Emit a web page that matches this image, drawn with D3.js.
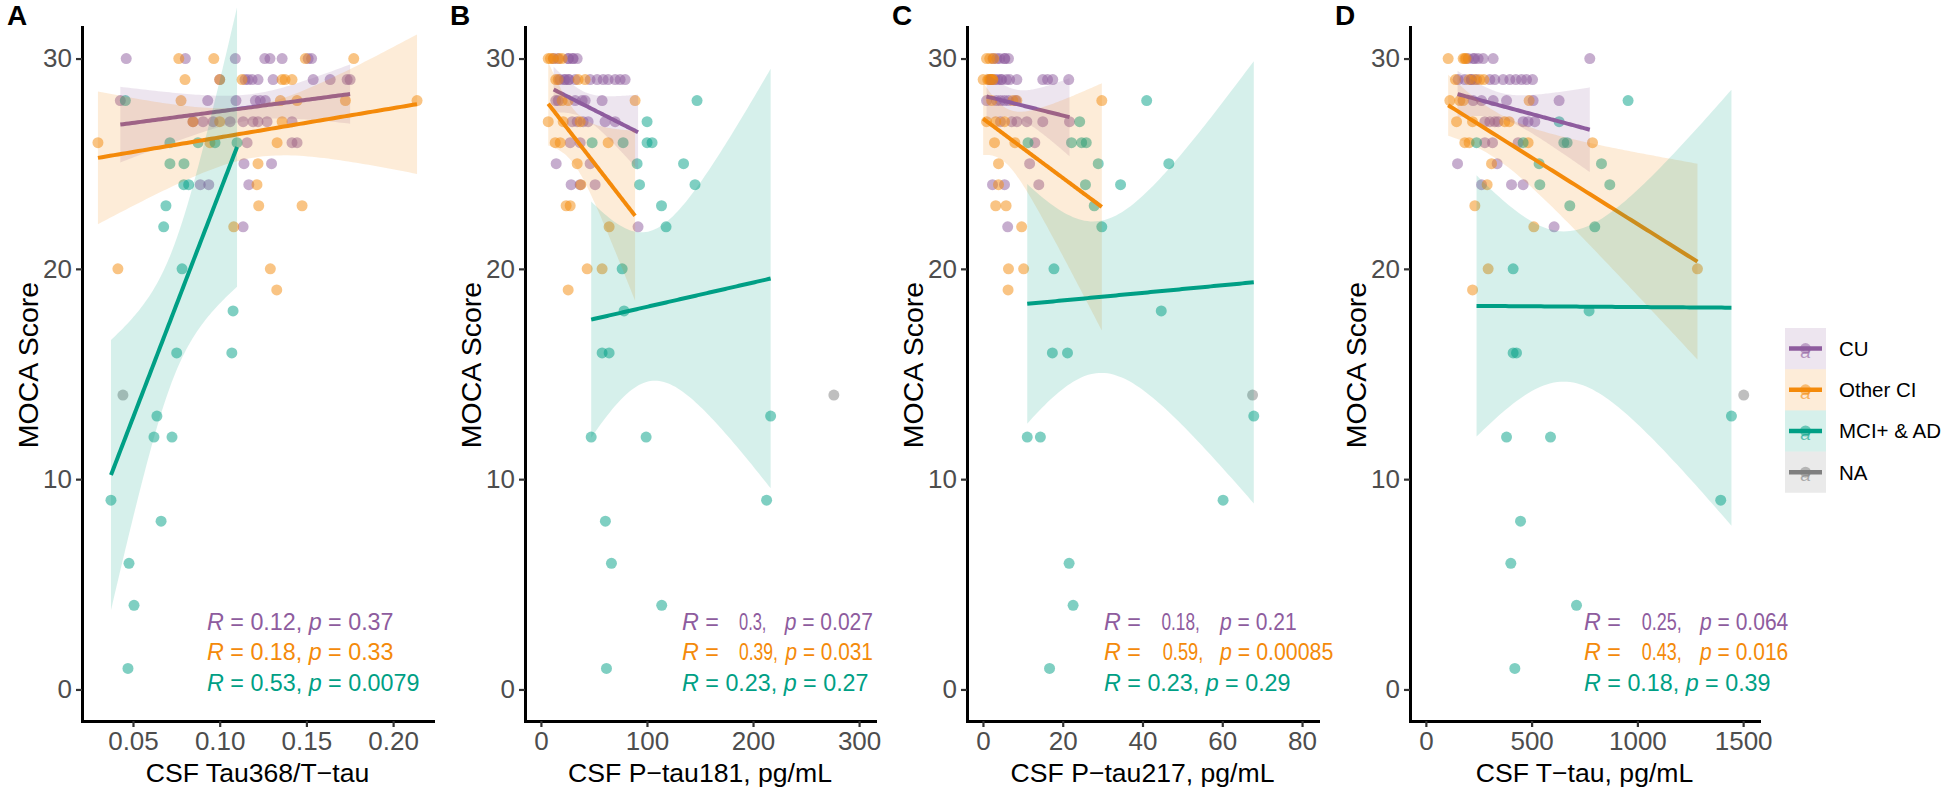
<!DOCTYPE html>
<html><head><meta charset="utf-8">
<script src="https://cdn.jsdelivr.net/npm/d3@7"></script>
<style>body{margin:0;background:#fff} svg{display:block} text{font-family:"Liberation Sans",Arial,Helvetica,sans-serif}</style>
</head><body><svg id="c" width="1945" height="799"></svg>
<script>
// ---------------- data ----------------
const groups = ["CU", "Other CI", "MCI+ & AD", "NA"];
const groupColors = ["#8E5C9E", "#F48A0A", "#009F85", "#7F7F7F"];
const yTicks = [0, 10, 20, 30];
const yLimits = [0, 30];
const yTitle = "MOCA Score";

// Panel A: CSF Tau368/T-tau
const tau368_CU = [[0.0461,30],[0.0802,30],[0.109,30],[0.126,30],[0.129,30],[0.136,30],[0.151,30],[0.153,30],
 [0.100,29],[0.1146,29],[0.1164,29],[0.1187,29],[0.1221,29],[0.1308,29],[0.1539,29],[0.1637,29],[0.1735,29],[0.1752,29],
 [0.0427,28],[0.0931,28],[0.1094,28],[0.1206,28],[0.1234,28],[0.1263,28],
 [0.0846,27],[0.0904,27],[0.0962,27],[0.106,27],[0.1135,27],[0.1192,27],[0.1221,27],[0.1273,27],[0.1417,27],
 [0.1158,26],[0.1417,26],[0.1446,26],[0.114,25],[0.1299,25],[0.0888,24],[0.0937,24],[0.1168,24],[0.1135,22]];
const tau368_OCI = [[0.0764,30],[0.0966,30],[0.1494,30],[0.1773,30],
 [0.080,29],[0.100,29],[0.1129,29],[0.136,29],[0.1377,29],[0.1417,29],
 [0.0777,28],[0.135,28],[0.1446,28],[0.1725,28],[0.2138,28],
 [0.0846,27],[0.100,27],[0.136,27],[0.0298,26],[0.0944,26],[0.1331,26],
 [0.1221,25],[0.1215,24],[0.1225,23],[0.1475,23],[0.1081,22],[0.0413,20],[0.1292,20],[0.1329,19]];
const tau368_MCI = [[0.0456,28],[0.0713,26],[0.0875,26],[0.0973,26],[0.110,26],[0.0713,25],[0.0794,25],[0.0793,24],
 [0.0821,24],[0.069,23],[0.0677,22],[0.0783,20],[0.1077,18],[0.0752,16],[0.107,16],[0.0638,13],[0.0621,12],[0.0725,12],
 [0.0373,9],[0.0662,8],[0.0477,6],[0.0506,4],[0.0471,1]];
const tau368_NA = [[0.0442,14]];

// Panel B: CSF P-tau181
const ptau181_CU = [[25.7,30],[30.4,30],[34.2,30],[12,30],[16,30],[26,30],[30,30],
 [22.9,29],[26.6,29],[32.3,29],[46.4,29],[53.0,29],[58.7,29],[63.4,29],[70.0,29],[74.7,29],[79.4,29],[18,29],[22,29],[26,29],
 [16.3,28],[32.3,28],[38.9,28],[41.7,28],[57.7,28],[14,28],
 [29.5,27],[34.2,27],[39.8,27],[44.5,27],[60.5,27],[70.0,27],
 [27.6,26],[37.0,26],[14.4,25],[46.4,25],[28.5,24],[37.0,24],[51.1,24],[91.6,22]];
const ptau181_OCI = [[6.9,30],[11.6,30],[17.2,30],[20.0,30],[9,30],[16.3,29],[35.1,29],[41.7,29],[14,29],
 [20.0,28],[25.7,28],[88.8,28],[6.9,27],[21.0,27],[37.0,27],[13.5,26],[18.2,26],[63.4,26],
 [34.2,25],[37.6,24],[23.8,23],[27.6,23],[64.3,22],[43.6,20],[57.7,20],[25.7,19]];
const ptau181_MCI = [[147.2,28],[100.1,27],[48.3,26],[77.5,26],[100.1,26],[104.8,26],[90.7,25],[134.5,25],[93.0,24],
 [145.3,24],[113.7,23],[118.0,22],[76.6,20],[78.4,18],[57.7,16],[64.3,16],[216.6,13],[47.4,12],[99.2,12],
 [212.8,9],[60.8,8],[66.5,6],[113.9,4],[61.8,1]];
const ptau181_NA = [[276.2,14]];

// Panel C: CSF P-tau217
const ptau217_CU = [[4.2,30],[5.4,30],[6.4,30],[2.5,30],[3.5,30],[5.5,30],
 [3.7,29],[4.7,29],[5.9,29],[6.7,29],[8.5,29],[15.0,29],[16.2,29],[17.5,29],[21.5,29],[4.5,29],[3.0,29],[2.0,29],
 [0.9,28],[3.4,28],[4.4,28],[5.4,28],[6.4,28],[8.2,28],
 [4.4,27],[7.2,27],[8.5,27],[11.0,27],[15.0,27],[21.7,27],
 [13.0,26],[11.7,25],[2.4,24],[5.4,24],[14.0,24],[6.2,22]];
const ptau217_OCI = [[0.9,30],[1.7,30],[2.7,30],[0.05,29],[1.2,29],[2.4,29],[1.5,29],[2.0,29],[2.5,29],[1.8,29],
 [2.2,28],[29.8,28],[7.5,28],[8.5,28],
 [0.9,27],[3.2,27],[5.4,27],[2.9,26],[8.0,26],[3.9,25],[3.9,24],[3.2,23],[5.8,23],[9.7,22],
 [6.4,20],[10.2,20],[6.3,19]];
const ptau217_MCI = [[41.05,28],[24.25,27],[11.3,26],[22.2,26],[24.75,26],[25.9,26],[28.9,25],[46.6,25],[25.7,24],
 [34.5,24],[27.9,23],[29.8,22],[17.8,20],[44.7,18],[17.4,16],[21.2,16],[67.9,13],[11.1,12],[14.4,12],
 [60.2,9],[21.6,6],[22.6,4],[16.7,1]];
const ptau217_NA = [[67.6,14]];

// Panel D: CSF T-tau
const ttau_CU = [[223.5,30],[247.2,30],[270.8,30],[318.1,30],[775.0,30],[200,30],[230,30],
 [152.6,29],[184.3,29],[302.5,29],[326.1,29],[365.3,29],[397.0,29],[425.3,29],[452.3,29],[475.9,29],[504.3,29],[215,29],[240,29],[215,29],
 [223.5,28],[263.2,28],[318.1,28],[381.4,28],[507.1,28],[630.0,28],
 [278.8,27],[302.5,27],[326.1,27],[341.7,27],[459.8,27],[483.5,27],[515.1,27],
 [278.8,26],[315.2,26],[436.2,26],[149.8,25],[337.0,25],[263.2,24],[405.0,24],[459.8,24],[606.3,22]];
const ttau_OCI = [[105.4,30],[176.3,30],[184.3,30],[190,30],[204.6,29],[231.6,29],[255.2,29],[274.1,29],[140,29],
 [113.4,28],[160.7,28],[176.3,28],[488.2,28],[145.1,27],[220.7,27],[373.3,27],[393.7,27],
 [184.3,26],[204.6,26],[483.5,26],[787.8,26],[310.5,25],[289.7,24],[231.6,23],[510.4,22],
 [294.4,20],[1284,20],[220.7,19]];
const ttau_MCI = [[956,28],[630,27],[239.6,26],[459.8,26],[652.2,26],[667.8,26],[535.4,25],[830.3,25],[538.8,24],
 [869.6,24],[680.5,23],[798.7,22],[412.6,20],[771.7,18],[412.6,16],[428.6,16],[1444.7,13],[381.4,12],[589.3,12],
 [1394.1,9],[447.5,8],[401.7,6],[712.2,4],[420.6,1]];
const ttau_NA = [[1502.8,14]];

const panelLetters = ["A", "B", "C", "D"];
const xTitles = ["CSF Tau368/T\u2212tau", "CSF P\u2212tau181, pg/mL", "CSF P\u2212tau217, pg/mL", "CSF T\u2212tau, pg/mL"];
const xTickValues = [[0.05, 0.10, 0.15, 0.20], [0, 100, 200, 300], [0, 20, 40, 60, 80], [0, 500, 1000, 1500]];
const xTickFormats = [".2f", "d", "d", "d"];
const xLimits = [null, [0, 300], [0, 80], [0, 1500]];
const panelData = [
  [tau368_CU, tau368_OCI, tau368_MCI, tau368_NA],
  [ptau181_CU, ptau181_OCI, ptau181_MCI, ptau181_NA],
  [ptau217_CU, ptau217_OCI, ptau217_MCI, ptau217_NA],
  [ttau_CU, ttau_OCI, ttau_MCI, ttau_NA]];
const corR = [["0.12","0.18","0.53"],["0.3","0.39","0.23"],["0.18","0.59","0.23"],["0.25","0.43","0.18"]];
const corP = [["0.37","0.33","0.0079"],["0.027","0.031","0.27"],["0.21","0.00085","0.29"],["0.064","0.016","0.39"]];

// ---------------- layout ----------------
const W = 1945, H = 799;
const plotTop = 27, plotBottom = 721;
const panelX = [[82, 433], [525, 875], [967, 1318], [1410, 1759]];
const corX0 = [207, 682, 1104, 1584];
const corBase = [630, 660, 691];
// condensed label segments: [offset of value, width of value, offset of p-part, width of p-part]
const corSegs = [null,
  [[57, 27.4, 102.7, 88.3], [57, 39, 103.5, 87.5]],
  [[57.5, 38.3, 116, 76.7], [58.7, 40.6, 116, 113.3]],
  [[57.7, 40, 116, 88.3], [57.7, 40, 116, 88.3]]];
const tickFont = 26, xTitleFont = 26.6, yTitleFont = 28.5, corFont = 23.3;

const svg = d3.select("#c");
svg.append("rect").attr("width", W).attr("height", H).attr("fill", "#fff");

function expand(lo, hi) { const r = hi - lo; return [lo - 0.05 * r, hi + 0.05 * r]; }
const y = d3.scaleLinear().domain(expand(...yLimits)).range([plotBottom, plotTop]);

function tq975(df) {
  const z = 1.959964;
  return z + (z ** 3 + z) / (4 * df) + (5 * z ** 5 + 16 * z ** 3 + 3 * z) / (96 * df * df)
    + (3 * z ** 7 + 19 * z ** 5 + 17 * z ** 3 - 15 * z) / (384 * df ** 3);
}
function lmFit(pts) {
  const n = pts.length; if (n < 3) return null;
  const xb = d3.mean(pts, d => d[0]), yb = d3.mean(pts, d => d[1]);
  let sxx = 0, sxy = 0;
  pts.forEach(([u, v]) => { sxx += (u - xb) ** 2; sxy += (u - xb) * (v - yb); });
  const b = sxy / sxx, a = yb - b * xb;
  let sse = 0; pts.forEach(([u, v]) => { sse += (v - a - b * u) ** 2; });
  const s = Math.sqrt(sse / (n - 2)), t = tq975(n - 2);
  const [x0, x1] = d3.extent(pts, d => d[0]);
  return d3.range(80).map(i => {
    const x = x0 + (x1 - x0) * i / 79, se = s * Math.sqrt(1 / n + (x - xb) ** 2 / sxx), yh = a + b * x;
    return { x, y: yh, lo: yh - t * se, hi: yh + t * se };
  });
}
// text squeezed horizontally to a given width
function squeezed(g, px, py, width, col, build) {
  const t = g.append("text").attr("x", 0).attr("y", 0).attr("font-size", corFont).attr("fill", col)
    .attr("xml:space", "preserve");
  build(t);
  const w = t.node().getComputedTextLength() || width;
  t.attr("transform", `translate(${px},${py}) scale(${width / w},1)`);
  return t;
}

panelData.forEach((data, i) => {
  const [L, R] = panelX[i];
  const lim = xLimits[i] || d3.extent(data.flat(), d => d[0]);
  const x = d3.scaleLinear().domain(expand(...lim)).range([L, R]);
  const g = svg.append("g");

  // points
  data.forEach((arr, gi) => {
    g.append("g").selectAll("circle").data(arr).join("circle")
      .attr("cx", d => x(d[0])).attr("cy", d => y(d[1])).attr("r", 5.5)
      .attr("fill", groupColors[gi]).attr("fill-opacity", 0.5);
  });
  // smooths
  data.forEach((arr, gi) => {
    const f = lmFit(arr); if (!f) return;
    g.append("path").datum(f)
      .attr("d", d3.area().x(d => x(d.x)).y0(d => y(d.lo)).y1(d => y(d.hi)))
      .attr("fill", groupColors[gi]).attr("fill-opacity", 0.16);
    g.append("path").datum(f)
      .attr("d", d3.line().x(d => x(d.x)).y(d => y(d.y)))
      .attr("fill", "none").attr("stroke", groupColors[gi]).attr("stroke-width", 4);
  });

  // axes
  const ya = g.append("g").attr("transform", `translate(${L},0)`)
    .call(d3.axisLeft(y).tickValues(yTicks).tickSize(6).tickSizeOuter(0).tickPadding(4));
  const xa = g.append("g").attr("transform", `translate(0,${plotBottom})`)
    .call(d3.axisBottom(x).tickValues(xTickValues[i]).tickFormat(d3.format(xTickFormats[i]))
      .tickSize(6).tickSizeOuter(0).tickPadding(5));
  [ya, xa].forEach(a => {
    a.select(".domain").attr("stroke", "#000").attr("stroke-width", 3).attr("stroke-linecap", "square");
    a.selectAll(".tick line").attr("stroke", "#333").attr("stroke-width", 2.2);
    a.selectAll(".tick text").attr("fill", "#4D4D4D").attr("font-size", tickFont)
      .attr("font-family", '"Liberation Sans",Arial,sans-serif');
  });

  // titles
  g.append("text").attr("x", (L + R) / 2).attr("y", 782).attr("text-anchor", "middle")
    .attr("font-size", xTitleFont).attr("fill", "#000").text(xTitles[i]);
  g.append("text").attr("transform", `translate(${L - 54.5},365) rotate(-90)`)
    .attr("dy", "0.36em").attr("text-anchor", "middle").attr("font-size", yTitleFont).attr("fill", "#000").text(yTitle);
  g.append("text").attr("x", L - 75).attr("y", 25).attr("font-size", 28).attr("font-weight", "bold")
    .attr("fill", "#000").text(panelLetters[i]);

  // correlation labels
  for (let k = 0; k < 3; k++) {
    const col = groupColors[k], x0 = corX0[i], yb = corBase[k];
    const seg = corSegs[i] && k < 2 ? corSegs[i][k] : null;
    if (!seg) {
      const t = g.append("text").attr("x", x0).attr("y", yb).attr("font-size", corFont).attr("fill", col)
        .attr("xml:space", "preserve");
      t.append("tspan").attr("font-style", "italic").text("R");
      t.append("tspan").text(` = ${corR[i][k]}, `);
      t.append("tspan").attr("font-style", "italic").text("p");
      t.append("tspan").text(` = ${corP[i][k]}`);
    } else {
      const t1 = g.append("text").attr("x", x0).attr("y", yb).attr("font-size", corFont).attr("fill", col)
        .attr("xml:space", "preserve");
      t1.append("tspan").attr("font-style", "italic").text("R");
      t1.append("tspan").text(" =");
      squeezed(g, x0 + seg[0], yb, seg[1], col, t => t.text(`${corR[i][k]},`));
      squeezed(g, x0 + seg[2], yb, seg[3], col, t => {
        t.append("tspan").attr("font-style", "italic").text("p");
        t.append("tspan").text(` = ${corP[i][k]}`);
      });
    }
  }
});

// ---------------- legend ----------------
const legX = 1785, legY = 328, keyW = 41, keyH = 41.2;
const lg = svg.append("g");
groups.forEach((name, gi) => {
  const ky = legY + gi * keyH, c = groupColors[gi];
  lg.append("rect").attr("x", legX).attr("y", ky).attr("width", keyW).attr("height", keyH)
    .attr("fill", c).attr("fill-opacity", 0.16);
  lg.append("circle").attr("cx", legX + keyW / 2).attr("cy", ky + keyH / 2).attr("r", 5.5)
    .attr("fill", c).attr("fill-opacity", 0.5);
  lg.append("line").attr("x1", legX + 4).attr("x2", legX + keyW - 4)
    .attr("y1", ky + keyH / 2).attr("y2", ky + keyH / 2).attr("stroke", c).attr("stroke-width", 4.5);
  lg.append("text").attr("x", legX + keyW / 2).attr("y", ky + keyH / 2 + 9).attr("text-anchor", "middle")
    .attr("font-size", 19).attr("font-style", "italic").attr("fill", c).attr("fill-opacity", 0.6).text("a");
  lg.append("text").attr("x", 1839).attr("y", ky + keyH / 2).attr("dy", "0.36em")
    .attr("font-size", 20.5).attr("fill", "#000").text(name);
});
</script></body></html>
